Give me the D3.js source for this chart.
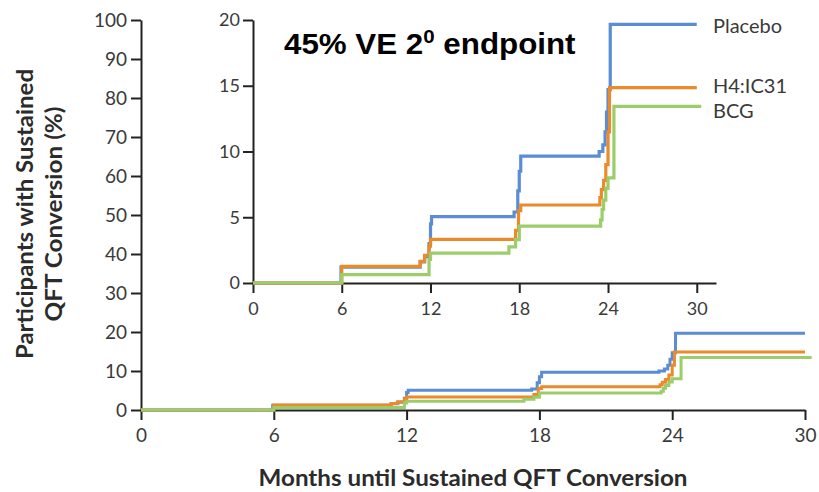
<!DOCTYPE html>
<html>
<head>
<meta charset="utf-8">
<script src="https://cdn.jsdelivr.net/npm/d3@7"></script>
<style>
  body { margin: 0; background: #fff; }
  .tick text { font-family: Lato, sans-serif; fill: #3a3a3a; }
</style>
</head>
<body>
<div id="chart"></div>
<script>
// step curves (months, % with sustained conversion)
const placeboMonths = [0, 5.95, 11.3, 11.6, 11.9, 12.0, 12.07, 17.65, 17.9, 18.0, 18.1, 23.4, 23.65, 23.8, 23.9, 24.0, 24.15, 30];
const placeboPct    = [0, 1.2, 1.6, 2.0, 3.0, 4.5, 5.04, 5.4, 7.0, 8.5, 9.65, 10.0, 10.5, 11.5, 13.0, 14.7, 19.67, 19.67];

const h4Months = [0, 6.0, 11.3, 11.6, 11.9, 12.0, 17.75, 17.95, 18.1, 23.45, 23.55, 23.7, 23.85, 24.0, 24.1, 30];
const h4Pct    = [0, 1.27, 1.65, 2.1, 2.8, 3.31, 4.0, 5.5, 5.93, 6.5, 7.1, 7.8, 9.0, 11.5, 14.85, 14.85];

const bcgMonths = [0, 6.0, 11.9, 12.0, 17.3, 17.75, 18.0, 23.5, 23.6, 23.7, 23.85, 24.0, 24.4, 30.3];
const bcgPct    = [0, 0.64, 1.8, 2.27, 2.75, 3.3, 4.33, 4.8, 5.6, 6.3, 7.2, 8.0, 13.43, 13.43];

const seriesNames = ["Placebo", "H4:IC31", "BCG"];
const xTicks = [0, 6, 12, 18, 24, 30];
const mainYTicks = [0, 10, 20, 30, 40, 50, 60, 70, 80, 90, 100];
const insetYTicks = [0, 5, 10, 15, 20];

const series = [
  { name: seriesNames[0], months: placeboMonths, pct: placeboPct, color: "#5a8dd4" },
  { name: seriesNames[1], months: h4Months, pct: h4Pct, color: "#ea8a2b" },
  { name: seriesNames[2], months: bcgMonths, pct: bcgPct, color: "#9bcd6a" }
];
series.forEach(s => { s.points = s.months.map((m, i) => [m, s.pct[i]]); });

const svg = d3.select("#chart").append("svg")
  .attr("width", 819)
  .attr("height", 492);

function styleAxis(g) {
  g.select(".domain").attr("stroke", "#222").attr("stroke-width", 2);
  g.selectAll(".tick line").attr("stroke", "#222").attr("stroke-width", 2);
}

// ---- main plot
const x = d3.scaleLinear().domain([0, 30]).range([141, 805]);
const y = d3.scaleLinear().domain([0, 100]).range([410, 20]);

svg.append("g")
  .attr("transform", "translate(0,410)")
  .call(d3.axisBottom(x).tickValues(xTicks).tickSize(10).tickSizeOuter(0).tickPadding(9))
  .call(styleAxis)
  .call(g => g.selectAll(".tick text").attr("font-size", 19));

svg.append("g")
  .attr("transform", "translate(141,0)")
  .call(d3.axisLeft(y).tickValues(mainYTicks).tickSize(10).tickSizeOuter(0).tickPadding(4))
  .call(styleAxis)
  .call(g => g.selectAll(".tick text").attr("font-size", 19));

const mainLine = d3.line().curve(d3.curveStepAfter).x(d => x(d[0])).y(d => y(d[1]));
svg.append("g").selectAll("path")
  .data(series)
  .join("path")
  .attr("d", d => mainLine(d.points))
  .attr("fill", "none")
  .attr("stroke", d => d.color)
  .attr("stroke-width", 3);

// ---- inset
const xi = d3.scaleLinear().domain([0, 31.3]).range([253, 716]);
const yi = d3.scaleLinear().domain([0, 20]).range([283, 20]);

svg.append("g")
  .attr("transform", "translate(0,283)")
  .call(d3.axisBottom(xi).tickValues(xTicks).tickSize(10).tickSizeOuter(0).tickPadding(9))
  .call(styleAxis)
  .call(g => g.selectAll(".tick text").attr("font-size", 18));

svg.append("g")
  .attr("transform", "translate(253,0)")
  .call(d3.axisLeft(yi).tickValues(insetYTicks).tickSize(10).tickSizeOuter(0).tickPadding(3))
  .call(styleAxis)
  .call(g => g.selectAll(".tick text").attr("font-size", 18));

const insetLine = d3.line().curve(d3.curveStepAfter).x(d => xi(d[0])).y(d => yi(d[1]));
svg.append("g").selectAll("path")
  .data(series)
  .join("path")
  .attr("d", d => insetLine(d.points))
  .attr("fill", "none")
  .attr("stroke", d => d.color)
  .attr("stroke-width", 3.2);

// series labels at the right end of the inset
const labelY = { "Placebo": 33, "H4:IC31": 93, "BCG": 118 };
svg.append("g").selectAll("text")
  .data(series)
  .join("text")
  .attr("x", 713)
  .attr("y", d => labelY[d.name])
  .attr("font-family", "Lato, sans-serif")
  .attr("font-size", 20)
  .attr("fill", "#3a3a3a")
  .text(d => d.name);

// ---- axis titles
const fitText = (sel, w) => sel.attr("textLength", w).attr("lengthAdjust", "spacingAndGlyphs");

svg.append("text")
  .attr("x", 473)
  .attr("y", 486)
  .attr("text-anchor", "middle")
  .attr("font-family", "Lato, sans-serif")
  .attr("font-weight", "bold")
  .attr("font-size", 23)
  .attr("fill", "#2b2b2b")
  .text("Months until Sustained QFT Conversion")
  .call(fitText, 429);

const yTitle = svg.append("g").attr("transform", "translate(0,214) rotate(-90)");
yTitle.append("text")
  .attr("x", 0).attr("y", 33)
  .attr("text-anchor", "middle")
  .attr("font-family", "Lato, sans-serif")
  .attr("font-weight", "bold")
  .attr("font-size", 22)
  .attr("fill", "#2b2b2b")
  .text("Participants with Sustained")
  .call(fitText, 290);
yTitle.append("text")
  .attr("x", 0).attr("y", 62)
  .attr("text-anchor", "middle")
  .attr("font-family", "Lato, sans-serif")
  .attr("font-weight", "bold")
  .attr("font-size", 22)
  .attr("fill", "#2b2b2b")
  .text("QFT Conversion (%)")
  .call(fitText, 215);

// ---- overlay title
const title = svg.append("text")
  .attr("font-family", "'Liberation Sans', Arial, sans-serif")
  .attr("font-weight", "bold")
  .attr("font-size", 29)
  .attr("fill", "#000");
title.append("tspan").text("45% VE 2");
title.append("tspan").attr("font-size", 19).attr("dy", -11).text("0");
title.append("tspan").attr("dy", 11).text(" endpoint");
const tw = title.node().getBBox().width;
title.attr("transform", `translate(284,54) scale(${292 / tw},1)`);
</script>
</body>
</html>
